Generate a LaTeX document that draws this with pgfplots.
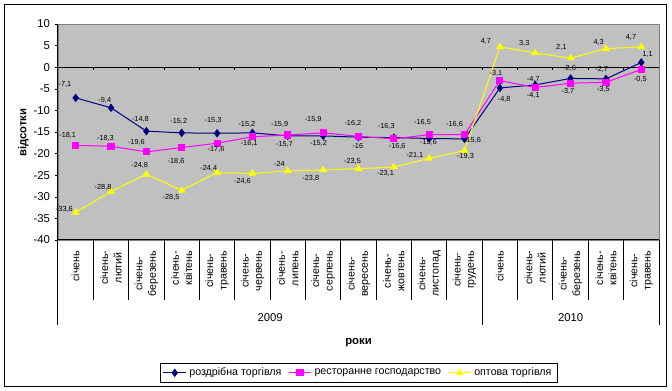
\documentclass[border=0pt]{standalone}
\usepackage{fontspec}
\setmainfont{Liberation Sans}
\usepackage{pgfplots}
\usepackage{pgfplotstable}
\pgfplotsset{compat=1.18}
\definecolor{plotbg}{HTML}{C0C0C0}
\definecolor{frame}{HTML}{808080}
\definecolor{retail}{HTML}{000080}
\definecolor{rest}{HTML}{FF00FF}
\definecolor{whole}{HTML}{FFFF00}

\pgfplotstableread{
x y dx dy
0 -7.1 -8 10
1 -9.4 -4.7 5.8
2 -14.8 -4.5 9
3 -15.2 -2.25 8.25
4 -15.3 -3 9.75
5 -15.2 -4.2 6.2
6 -15.9 -6 8.7
7 -15.9 -7.5 12
8 -16.2 -4.2 10
9 -16.3 -5.7 8.5
10 -16.5 -5 11.7
11 -16.6 -7.5 11
12 -4.8 3.25 -8.75
13 -4.1 -1.5 -8
14 -2.6 -0.75 7.5
15 -2.7 -3.25 6.75
16 1.1 4.75 5.75
}\retailtab

\pgfplotstableread{
x y dx dy
0 -18.1 -6 7.25
1 -18.3 -4.2 6
2 -19.6 -7.5 6.75
3 -18.6 -4.25 -10.5
4 -17.6 -0.75 -5
5 -16.1 -2.5 -5.25
6 -15.7 -2.5 -7.25
7 -15.2 -3.5 -7.75
8 -16.0 -0.5 -7
9 -16.6 2.5 -5.75
10 -15.6 -0.5 -6
11 -15.6 6 -4
12 -3.1 -3 5.25
13 -4.7 -1.5 5.75
14 -3.7 -2 -6.25
15 -3.5 -2 -5.5
16 -0.5 -0.75 -7.25
}\resttab

\pgfplotstableread{
x y dx dy
0 -33.6 -8.5 2.5
1 -28.8 -6 3.25
2 -24.8 -5 6.75
3 -28.5 -8 -5.5
4 -24.4 -6.25 3
5 -24.6 -7.5 -6.25
6 -24.0 -6.25 5.5
7 -23.8 -9.25 -6.25
8 -23.5 -4.5 5.5
9 -23.1 -6.25 -4.5
10 -21.1 -10.75 2.25
11 -19.3 0.75 -4.5
12 4.7 -10.5 4
13 3.3 -8.25 7.5
14 2.1 -7 7.75
15 4.3 -5.5 4.5
16 4.7 -7.75 7
}\wholetab

\begin{document}
\begin{tikzpicture}
\useasboundingbox (-43.5pt,-113.25pt) rectangle (460.5pt,180pt);
\draw[black, line width=0.75pt] (-39.75pt,-110.25pt) rectangle (456pt,176.25pt);
\begin{axis}[
  at={(0,0)}, anchor=south west,
  scale only axis, width=450.75pt, height=162pt,
  xmin=-0.5, xmax=16.5, ymin=-40, ymax=10,
  ytick={-40,-35,...,10},
  xtick={0,...,16},
  xticklabels={січень, {січень-\\лютий}, {січень-\\березень}, {січень-\\квітень}, {січень-\\травень}, {січень-\\червень}, {січень-\\липень}, {січень-\\серпень}, {січень-\\вересень}, {січень-\\жовтень}, {січень-\\листопад}, {січень-\\грудень}, січень, {січень-\\лютий}, {січень-\\березень}, {січень-\\квітень}, {січень-\\травень}},
  x tick label style={rotate=90, anchor=east, align=center, font=\fontsize{8}{10}\selectfont},
  xticklabel shift=2pt,
  y tick label style={font=\fontsize{8.5}{10}\selectfont},
  /pgf/number format/assume math mode=true,
  axis background/.style={fill=plotbg},
  axis line style={draw=frame},
  ytick pos=left, xtick pos=bottom,
  tick align=outside,
  major tick length=2.5pt,
  y tick style={black},
  x tick style={draw=none},
  clip=false,
  every axis plot/.append style={line width=0.75pt},
  legend style={at={(0.5,-0.5694)}, anchor=north, legend columns=-1, draw=black, fill=white,
    font=\fontsize{8}{9.5}\selectfont, inner ysep=1.5pt, inner xsep=2pt,
    /tikz/every even column/.append style={column sep=3pt}},
  legend cell align=left,
  lbl/.style={
    visualization depends on={\thisrow{dx}\as\lblx},
    visualization depends on={\thisrow{dy}\as\lbly},
    nodes near coords={\pgfmathprintnumber[fixed,precision=1,use comma,assume math mode=true]{\pgfplotspointmeta}},
    every node near coord/.append style={font=\fontsize{5.5}{6}\selectfont, text=black, anchor=center, xshift=\lblx pt, yshift=\lbly pt, inner sep=0pt},
  },
]
% zero line and its ticks
\draw[black, line width=0.75pt] (axis cs:-0.5,0) -- (axis cs:16.5,0);
\pgfplotsinvokeforeach{0.5,1.5,2.5,3.5,4.5,5.5,6.5,7.5,8.5,9.5,10.5,11.5,12.5,13.5,14.5,15.5}{
  \draw[black, line width=0.75pt] (axis cs:#1,0) -- ++(0pt,-2.25pt);
}
\addplot[lbl, color=retail, mark=diamond*, mark size=2.6pt, mark options={fill=retail, draw=retail}] table[x=x,y=y] {\retailtab};
\addlegendentry{роздрібна торгівля}
\addplot[lbl, color=rest, mark=square*, mark size=2.3pt, mark options={fill=rest, draw=rest}] table[x=x,y=y] {\resttab};
\addlegendentry{ресторанне господарство}
\addplot[lbl, color=whole, mark=triangle*, mark size=2.6pt, mark options={fill=whole, draw=whole}] table[x=x,y=y] {\wholetab};
\addlegendentry{оптова торгівля}
% axis lines
\draw[black, line width=0.75pt] (rel axis cs:0,0) -- (rel axis cs:0,1);
\draw[black, line width=0.75pt] (rel axis cs:0,0) -- (rel axis cs:1,0);
\pgfplotsinvokeforeach{0.5,1.5,2.5,3.5,4.5,5.5,6.5,7.5,8.5,9.5,10.5,12.5,13.5,14.5,15.5}{
  \draw[black, line width=0.75pt] (axis cs:#1,-40) -- ++(0pt,-45pt);
}
\pgfplotsinvokeforeach{-0.5,11.5,16.5}{
  \draw[black, line width=0.75pt] (axis cs:#1,-40) -- ++(0pt,-63.75pt);
}
\node[font=\fontsize{8.5}{10}\selectfont] at ([yshift=-58.5pt]axis cs:5.5,-40) {2009};
\node[font=\fontsize{8.5}{10}\selectfont] at ([yshift=-58.5pt]axis cs:14,-40) {2010};
\end{axis}
\node[rotate=90, font=\bfseries\fontsize{8.5}{10}\selectfont] at (-26pt,80.5pt) {відсотки};
\node[font=\bfseries\fontsize{8.5}{10}\selectfont] at (225.4pt,-77pt) {роки};
\end{tikzpicture}
\end{document}
